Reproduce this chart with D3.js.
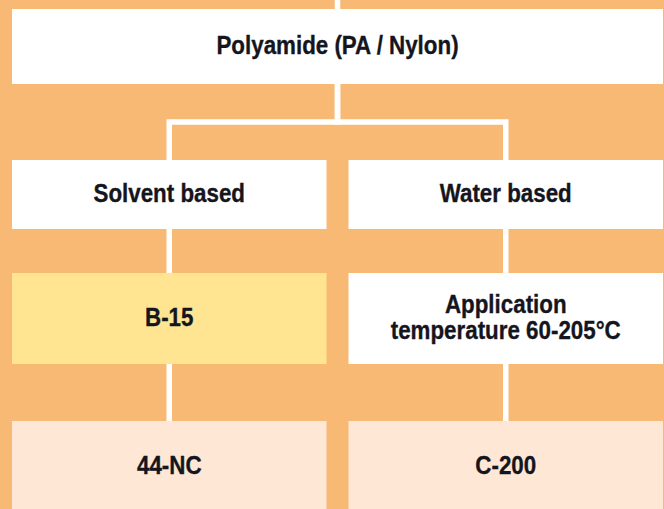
<!DOCTYPE html>
<meta charset="utf-8">
<style>
    body { margin: 0; }
    svg { display: block; }
    .box-label {
        font-family: "Liberation Sans", Arial, sans-serif;
        font-weight: bold;
        font-size: 26px;
        fill: #15151e;
        stroke: #15151e;
        stroke-width: 0.35px;
    }
</style>
<svg width="664" height="509"></svg>
<script src="https://cdnjs.cloudflare.com/ajax/libs/d3/7.8.5/d3.min.js"></script>
<script>

    // tree content
    var nodeLabels = ["Polyamide (PA / Nylon)", "Solvent based", "Water based", "B-15",
        "Application\ntemperature 60-205°C", "44-NC", "C-200"];
    var nodeParents = [null, 0, 0, 1, 2, 3, 4];
    var nodeLevels = [0, 1, 1, 2, 2, 3, 3];
    var nodeColumns = ["all", "left", "right", "left", "right", "left", "right"];
    var nodeKinds = ["group", "group", "group", "highlight", "note", "product", "product"];

    var columns = ["left", "right"];

    // layout
    var rowTop = [9, 160, 273, 421],
        rowHeight = [75, 69, 91, 91];

    var fillByKind = {
        group: "#ffffff",
        note: "#ffffff",
        highlight: "#ffe592",
        product: "#fee8d5"
    };

    var svg = d3.select("svg"),
        width = +svg.attr("width"),
        height = +svg.attr("height");

    svg.append("rect")
        .attr("width", width)
        .attr("height", height)
        .attr("fill", "#f8b974");

    var x = d3.scaleBand()
        .domain(columns)
        .range([12, 663])
        .paddingInner(22 / 336.5);

    var nodes = nodeLabels.map(function (label, i) {
        var x0 = nodeColumns[i] === "all" ? x.range()[0] : x(nodeColumns[i]),
            w = nodeColumns[i] === "all" ? x.range()[1] - x.range()[0] : x.bandwidth();
        return {
            id: i,
            label: label,
            parent: nodeParents[i],
            kind: nodeKinds[i],
            x0: x0,
            w: w,
            cx: x0 + w / 2,
            y0: rowTop[nodeLevels[i]],
            h: rowHeight[nodeLevels[i]]
        };
    });

    // connectors
    var links = svg.append("g")
        .attr("fill", "none")
        .attr("stroke", "#fff")
        .attr("stroke-width", 5.5);

    links.append("line")
        .attr("x1", nodes[0].cx).attr("x2", nodes[0].cx)
        .attr("y1", 0).attr("y2", nodes[0].y0);

    nodes.filter(function (d) { return d.parent !== null; }).forEach(function (d) {
        var p = nodes[d.parent],
            py = p.y0 + p.h,
            cy = d.y0;
        if (p.cx === d.cx) {
            links.append("line")
                .attr("x1", d.cx).attr("x2", d.cx)
                .attr("y1", py).attr("y2", cy);
        } else {
            var mid = 122;
            links.append("path")
                .attr("d", "M" + p.cx + "," + py + "V" + mid + "H" + d.cx + "V" + cy);
        }
    });

    // boxes
    var box = svg.append("g")
        .selectAll("g")
        .data(nodes)
        .enter().append("g");

    box.append("rect")
        .attr("x", function (d) { return d.x0; })
        .attr("y", function (d) { return d.y0; })
        .attr("width", function (d) { return d.w; })
        .attr("height", function (d) { return d.h; })
        .attr("fill", function (d) { return fillByKind[d.kind]; });

    // condensed look: squeeze the bold face horizontally
    var squeeze = 0.86,
        lineGap = 26;

    box.append("text")
        .attr("class", "box-label")
        .attr("text-anchor", "middle")
        .attr("transform", function (d) { return "translate(" + d.cx + ",0) scale(" + squeeze + ",1)"; })
        .each(function (d) {
            var lines = d.label.split("\n"),
                first = d.y0 + d.h / 2 - (lines.length - 1) * lineGap / 2 + 8;
            d3.select(this).selectAll("tspan")
                .data(lines)
                .enter().append("tspan")
                .attr("x", 0)
                .attr("y", function (l, i) { return first + i * lineGap; })
                .text(function (l) { return l; });
        });

</script>
